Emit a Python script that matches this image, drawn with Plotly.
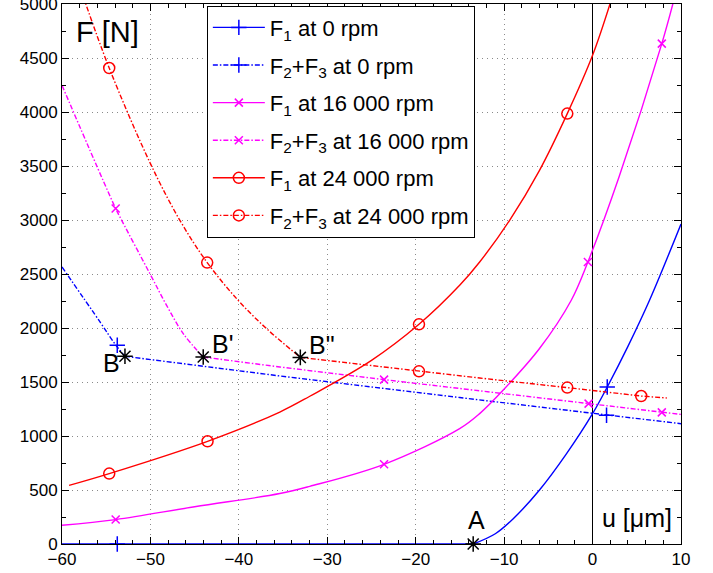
import plotly.graph_objects as go

# ---------------- data ----------------
# F1 at 0 rpm (flat part, then contact curve)
u_f1_0_flat = [-60, -13.5]
f_f1_0_flat = [0, 0]
u_f1_0 = [-13.5, -11, -9, -6, -3, 0, 1.66, 4, 6.44, 10]
f_f1_0 = [0, 95, 232, 500, 830, 1207, 1454, 1830, 2257, 2963]
u_f1_0_mk = [-53.75, 1.66]
f_f1_0_mk = [0, 1454]

# F2+F3 at 0 rpm (curved part up to B, then straight part)
u_f23_0_c = [-60, -55.7, -53.9, -52.88]
f_f23_0_c = [2565, 2056, 1840, 1738]
u_f23_0_l = [-52.88, -35.37, -15.03, 1.58, 10]
f_f23_0_l = [1738, 1556, 1356, 1192, 1114]
u_f23_0_mk = [-53.75, 1.58]
f_f23_0_mk = [1840, 1192]

# F1 at 16 000 rpm
u_f1_16 = [-60, -53.93, -45, -35.37, -31.98, -23.58, -15.03, -12.77, -10.13, -6, -2.41, -0.53, 3, 7.83, 9.3]
f_f1_16 = [173, 226, 345, 467, 534, 738, 1068, 1207, 1423, 1810, 2257, 2611, 3400, 4633, 5070]
u_f1_16_mk = [-53.93, -23.58, -0.53, 7.83]
f_f1_16_mk = [226, 738, 2611, 4633]

# F2+F3 at 16 000 rpm
u_f23_16_c = [-60, -53.93, -53.25, -50.06, -48.17, -46.29, -44.03]
f_f23_16_c = [4247, 3106, 2997, 2503, 2210, 1948, 1731]
u_f23_16_l = [-44.03, -35.37, -23.58, -12.77, -0.45, 7.83, 10]
f_f23_16_l = [1731, 1639, 1522, 1417, 1300, 1219, 1200]
u_f23_16_mk = [-53.93, -23.58, -0.45, 7.83]
f_f23_16_mk = [3106, 1522, 1300, 1219]

# F1 at 24 000 rpm
u_f1_24 = [-59.2, -54.66, -43.54, -35.37, -31.98, -25, -19.63, -15.03, -12.77, -9.38, -6, -2.86, 0, 2.2]
f_f1_24 = [543, 652, 951, 1222, 1368, 1700, 2034, 2395, 2611, 2997, 3460, 3985, 4525, 5060]
u_f1_24_mk = [-54.66, -43.54, -19.63, -2.86]
f_f1_24_mk = [652, 951, 2034, 3985]

# F2+F3 at 24 000 rpm
u_f23_24_c = [-57.6, -54.66, -50, -46.67, -43.58, -40.08, -36.87, -33.05]
f_f23_24_c = [5070, 4407, 3522, 2997, 2606, 2256, 1994, 1728]
u_f23_24_l = [-33.05, -19.63, -12.77, -2.86, 5.5, 8.4]
f_f23_24_l = [1728, 1599, 1537, 1448, 1370, 1352]
u_f23_24_mk = [-54.66, -43.58, -19.63, -2.86, 5.5]
f_f23_24_mk = [4407, 2606, 1599, 1448, 1370]

# special points A, B, B', B"
u_pts = [-13.5, -52.88, -44.03, -33.05]
f_pts = [0, 1738, 1731, 1728]
pt_labels = ["A", "B", "B'", 'B"']
lbl_u = [-13.1, -54.4, -41.8, -30.6]
lbl_f = [225, 1680, 1855, 1845]

legend_names = [
    "F<sub>1</sub> at 0 rpm",
    "F<sub>2</sub>+F<sub>3</sub> at 0 rpm",
    "F<sub>1</sub> at 16 000 rpm",
    "F<sub>2</sub>+F<sub>3</sub> at 16 000 rpm",
    "F<sub>1</sub> at 24 000 rpm",
    "F<sub>2</sub>+F<sub>3</sub> at 24 000 rpm",
]

# ---------------- styling ----------------
BLUE = "#0000ff"
MAG = "#ff00ff"
RED = "#ff0000"
DASHDOT = "5px,2px,1.5px,2px"
LW = 1.4
FONT = "Liberation Sans, Arial, Helvetica, sans-serif"

fig = go.Figure()


def line(u, f, color, dash, shape):
    fig.add_trace(go.Scatter(
        x=u, y=f, mode="lines", showlegend=False, hoverinfo="skip",
        line=dict(color=color, width=LW, dash=dash, shape=shape, smoothing=1.0)))


def marks(u, f, color, symbol, size):
    fig.add_trace(go.Scatter(
        x=u, y=f, mode="markers", showlegend=False, hoverinfo="skip",
        cliponaxis=False,
        marker=dict(symbol=symbol, size=size, color=color,
                    line=dict(color=color, width=1.5))))


# curves
line(u_f1_0_flat, f_f1_0_flat, BLUE, "solid", "linear")
line(u_f1_0, f_f1_0, BLUE, "solid", "spline")
line(u_f23_0_c, f_f23_0_c, BLUE, DASHDOT, "spline")
line(u_f23_0_l, f_f23_0_l, BLUE, DASHDOT, "linear")
line(u_f1_16, f_f1_16, MAG, "solid", "spline")
line(u_f23_16_c, f_f23_16_c, MAG, DASHDOT, "spline")
line(u_f23_16_l, f_f23_16_l, MAG, DASHDOT, "linear")
line(u_f1_24, f_f1_24, RED, "solid", "spline")
line(u_f23_24_c, f_f23_24_c, RED, DASHDOT, "spline")
line(u_f23_24_l, f_f23_24_l, RED, DASHDOT, "linear")

# markers
marks(u_f1_0_mk, f_f1_0_mk, BLUE, "cross-thin-open", 11)
marks(u_f23_0_mk, f_f23_0_mk, BLUE, "cross-thin-open", 11)
marks(u_f1_16_mk, f_f1_16_mk, MAG, "x-thin-open", 8)
marks(u_f23_16_mk, f_f23_16_mk, MAG, "x-thin-open", 8)
marks(u_f1_24_mk, f_f1_24_mk, RED, "circle-open", 11)
marks(u_f23_24_mk, f_f23_24_mk, RED, "circle-open", 11)
marks(u_pts, f_pts, "black", "asterisk-open", 13)

# legend entries (one group each so that tracegroupgap spaces the rows)
leg_styles = [
    (BLUE, "solid", "cross-thin-open", 11),
    (BLUE, DASHDOT, "cross-thin-open", 11),
    (MAG, "solid", "x-thin-open", 8),
    (MAG, DASHDOT, "x-thin-open", 8),
    (RED, "solid", "circle-open", 11),
    (RED, DASHDOT, "circle-open", 11),
]
for i, (name, (c, d, s, sz)) in enumerate(zip(legend_names, leg_styles)):
    fig.add_trace(go.Scatter(
        x=[None], y=[None], mode="lines+markers", name=name,
        legendgroup=f"g{i}",
        line=dict(color=c, width=LW, dash=d),
        marker=dict(symbol=s, size=sz, color=c, line=dict(color=c, width=1.5))))

# labels
for t, u, f in zip(pt_labels, lbl_u, lbl_f):
    fig.add_annotation(x=u, y=f, text=t, showarrow=False,
                       font=dict(size=25, color="black", family=FONT))
fig.add_annotation(x=-54.8, y=4738, text="F [N]", showarrow=False,
                   font=dict(size=29, color="black", family=FONT))
fig.add_annotation(x=5.08, y=237, text="u [μm]", showarrow=False,
                   font=dict(size=25, color="black", family=FONT))

axis_common = dict(
    automargin=False,
    showline=True, linecolor="black", linewidth=1, mirror="ticks",
    ticks="inside", ticklen=7, tickcolor="black", tickwidth=1,
    showgrid=True, gridcolor="#8a8a8a", griddash="1px,4px", gridwidth=1,
    tickfont=dict(size=17, color="black", family=FONT),
    ticklabeloverflow="allow",
)

fig.update_xaxes(range=[-60, 10], tick0=-60, dtick=10,
                 zeroline=True, zerolinecolor="black", zerolinewidth=1,
                 minor=dict(dtick=2, ticks="inside", ticklen=4, tickcolor="black", showgrid=False),
                 **axis_common)
fig.update_yaxes(range=[0, 5000], tick0=0, dtick=500, zeroline=False,
                 minor=dict(dtick=250, ticks="inside", ticklen=4, tickcolor="black", showgrid=False),
                 **axis_common)

fig.update_layout(
    width=713, height=573,
    margin=dict(l=62, r=32, t=4, b=29, autoexpand=False),
    plot_bgcolor="white", paper_bgcolor="white",
    font=dict(family=FONT, color="black"),
    legend=dict(x=0.234, y=0.997, xanchor="left", yanchor="top",
                bgcolor="white", bordercolor="black", borderwidth=1,
                font=dict(size=22, color="black", family=FONT),
                traceorder="grouped", tracegroupgap=6,
                itemwidth=52),
)

fig.write_html("out.html",
               config={"displayModeBar": False},
               post_script="document.body.style.margin='0';document.body.style.overflow='hidden';")
